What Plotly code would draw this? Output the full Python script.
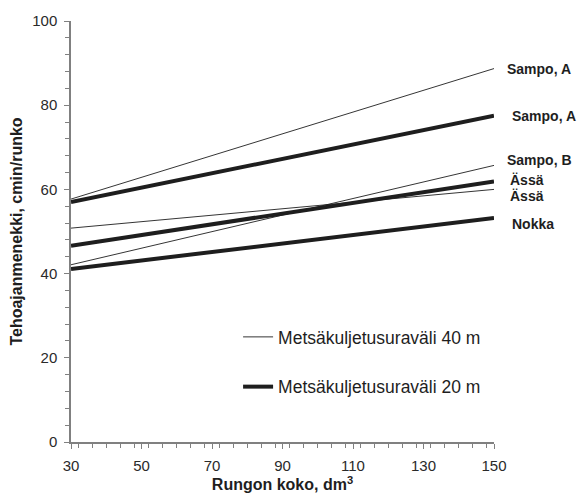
import plotly.graph_objects as go

x_vals = [30, 150]

thin_names = ["Sampo, A", "Sampo, B", "Ässä"]
thin_start = [57.7, 42.1, 50.8]
thin_end = [88.7, 65.7, 60.0]

thick_names = ["Sampo, A", "Ässä", "Nokka"]
thick_start = [57.0, 46.6, 41.1]
thick_end = [77.5, 61.9, 53.2]

x_ticks = [30, 50, 70, 90, 110, 130, 150]
y_ticks = [0, 20, 40, 60, 80, 100]

legend_thin = "Metsäkuljetusuraväli 40 m"
legend_thick = "Metsäkuljetusuraväli 20 m"

ink = "#1e1e1e"
FONT = "Arial, Liberation Sans, sans-serif"
fig = go.Figure()

for i, (s, e) in enumerate(zip(thin_start, thin_end)):
    fig.add_trace(go.Scatter(x=x_vals, y=[s, e], mode="lines",
                             line=dict(color=ink, width=0.9),
                             name=legend_thin, legendgroup="thin",
                             showlegend=(i == 0)))
for i, (s, e) in enumerate(zip(thick_start, thick_end)):
    fig.add_trace(go.Scatter(x=x_vals, y=[s, e], mode="lines",
                             line=dict(color=ink, width=4),
                             name=legend_thick, legendgroup="thick",
                             showlegend=(i == 0)))

# end labels
thin_shift = [0, 5, -7]
thick_shift = [0, 1, -6]
thin_xs = [11, 11, 14]
thick_xs = [16, 14, 16]
lab_font = dict(family=FONT, size=14, color=ink)
for n, e, ys, xs in zip(thin_names, thin_end, thin_shift, thin_xs):
    fig.add_annotation(x=150, y=e, text="<b>%s</b>" % n, showarrow=False,
                       xanchor="left", yanchor="middle", xshift=xs, yshift=ys,
                       font=lab_font)
for n, e, ys, xs in zip(thick_names, thick_end, thick_shift, thick_xs):
    fig.add_annotation(x=150, y=e, text="<b>%s</b>" % n, showarrow=False,
                       xanchor="left", yanchor="middle", xshift=xs, yshift=ys,
                       font=lab_font)

axis_common = dict(showgrid=False, zeroline=False, showline=True,
                   linecolor="#808080", linewidth=1.5,
                   ticks="outside", ticklen=5, tickwidth=1, tickcolor="#808080",
                   ticklabelstandoff=4,
                   tickfont=dict(family=FONT, size=15, color="#2a2a2a"),
                   minor=dict(ticks="outside", ticklen=4, tickwidth=1, tickcolor="#808080", dtick=4))

fig.update_xaxes(range=[30, 150], tickvals=x_ticks, **axis_common,
                 title=dict(text="<b>Rungon koko, dm<sup>3</sup></b>", standoff=6,
                            font=dict(family=FONT, size=16, color=ink)))
fig.update_yaxes(range=[0, 100], tickvals=y_ticks, **axis_common,
                 title=dict(text="<b>Tehoajanmenekki, cmin/runko</b>", standoff=6,
                            font=dict(family=FONT, size=16, color=ink)))

fig.update_layout(
    width=577, height=503,
    margin=dict(l=71, r=83, t=20, b=60),
    plot_bgcolor="white", paper_bgcolor="white",
    legend=dict(x=0.395, y=0.19, xanchor="left", yanchor="middle",
                bgcolor="rgba(0,0,0,0)", tracegroupgap=24, traceorder="grouped",
                font=dict(family=FONT, size=17.5, color=ink)),
)

fig.write_html("out.html")
